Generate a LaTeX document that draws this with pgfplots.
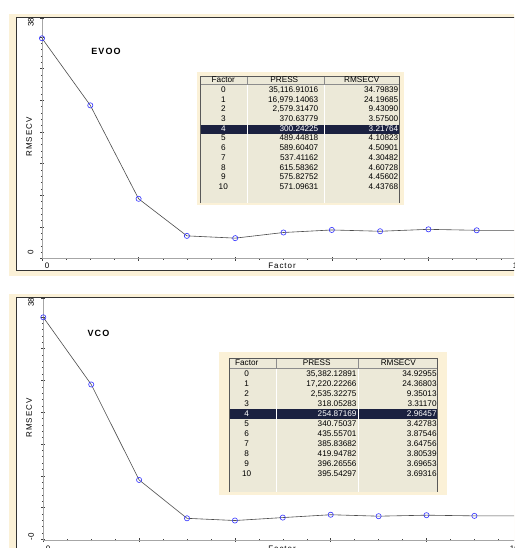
\documentclass[border=0pt]{standalone}
\usepackage{pgfplots}
\pgfplotsset{compat=1.18}
\usepackage{fontspec}
\setmainfont{Liberation Sans}
\newfontfamily\lsf[LetterSpace=12]{Liberation Sans}
\definecolor{framec}{RGB}{251,241,215}
\definecolor{tabbg}{RGB}{236,233,216}
\definecolor{hl}{RGB}{27,33,64}
\definecolor{mk}{RGB}{50,50,255}
\newcommand\tabfont{\fontsize{8.2}{9}\selectfont}
\newcommand\trow[5][black]{%
  \node[text=#1, font=\tabfont, anchor=mid, inner sep=0pt] at (\cA,{\yZ+\dY*#2}) {#3};
  \node[text=#1, font=\tabfont, anchor=mid east, inner sep=0pt] at (\cB,{\yZ+\dY*#2}) {#4};
  \node[text=#1, font=\tabfont, anchor=mid east, inner sep=0pt] at (\cC,{\yZ+\dY*#2}) {#5};}
\pgfplotsset{
  rmsestyle/.style={
    scale only axis, xmin=0, xmax=10,
    axis x line*=bottom, axis y line*=left,
    axis line style={draw=black!35, line width=0.6pt},
    xtick={0,2,...,10}, minor x tick num=3,
    ytick={0,5,...,35}, minor y tick num=4,
    extra y ticks={38}, extra y tick labels={},
    xticklabels={}, yticklabels={},
    tick align=center,
    major tick length=4pt, minor tick length=2pt,
    every tick/.style={black!75, line width=0.5pt},
    clip=false,
  },
  curvestyle/.style={color=black!70, line width=0.6pt, mark=o, mark size=2.6pt,
    mark options={draw=mk, line width=0.6pt}},
}
\begin{document}
\begin{tikzpicture}
\useasboundingbox (0pt,0pt) rectangle (514pt,-548pt);
\clip (0pt,0pt) rectangle (514pt,-548pt);
\fill[white] (0pt,0pt) rectangle (514pt,-548pt);
\begin{scope}[x=1pt,y=-1pt]
  % frames
  \fill[framec] (9,14) rectangle (530,276);
  \filldraw[fill=white, draw=black!80, line width=0.6pt] (16,17) rectangle (530,270.5);
  \fill[framec] (9,294) rectangle (530,570);
  \filldraw[fill=white, draw=black!80, line width=0.6pt] (16,297) rectangle (530,570);
\end{scope}

\begin{axis}[rmsestyle, at={(42pt,-258.5pt)}, anchor=south west,
  width=483pt, height=240.5pt, ymin=0, ymax=38]
\addplot[curvestyle] coordinates {
 (0,34.79839) (1,24.19685) (2,9.43090) (3,3.57500) (4,3.21764) (5,4.10823)
 (6,4.50901) (7,4.30482) (8,4.60728) (9,4.45602) (10,4.43768)};
\end{axis}

\begin{axis}[rmsestyle, at={(43.3pt,-540pt)}, anchor=south west,
  width=479pt, height=242.2pt, ymin=-0.1, ymax=38]
\addplot[curvestyle] coordinates {
 (0,34.92955) (1,24.36803) (2,9.35013) (3,3.31170) (4,2.96457) (5,3.42783)
 (6,3.87546) (7,3.64756) (8,3.80539) (9,3.69653) (10,3.69316)};
\end{axis}

\begin{scope}[x=1pt,y=-1pt]
  % axis texts top
  \node[rotate=90, font=\fontsize{8}{9}\selectfont, inner sep=0pt] at (30.8,22.5) {38};
  \node[rotate=90, font=\fontsize{8}{9}\selectfont, inner sep=0pt] at (30.5,252.5) {0};
  \node[rotate=90, font=\lsf\fontsize{8}{9}\selectfont, inner sep=0pt] at (29,137) {RMSECV};
  \node[font=\fontsize{8}{9}\selectfont, inner sep=0pt] at (47,265.5) {0};
  \node[font=\fontsize{8}{9}\selectfont, inner sep=0pt, anchor=east] at (522,265.5) {10};
  \node[font=\lsf\fontsize{8}{9}\selectfont, inner sep=0pt] at (282,266) {Factor};
  \node[font=\lsf\bfseries\fontsize{9}{10}\selectfont, inner sep=0pt] at (106,51.7) {EVOO};
  % axis texts bottom
  \node[rotate=90, font=\fontsize{8}{9}\selectfont, inner sep=0pt] at (31,302.5) {38};
  \node[rotate=90, font=\fontsize{8}{9}\selectfont, inner sep=0pt] at (31,536.5) {-0};
  \node[rotate=90, font=\lsf\fontsize{8}{9}\selectfont, inner sep=0pt] at (29,418) {RMSECV};
  \node[font=\fontsize{8}{9}\selectfont, inner sep=0pt] at (48,548.5) {0};
  \node[font=\fontsize{8}{9}\selectfont, inner sep=0pt, anchor=east] at (519,548.5) {10};
  \node[font=\lsf\fontsize{8}{9}\selectfont, inner sep=0pt] at (282,548.5) {Factor};
  \node[font=\lsf\bfseries\fontsize{9}{10}\selectfont, inner sep=0pt] at (98.5,333.5) {VCO};

  % ---------- top table ----------
  \fill[framec] (196.5,72) rectangle (403.5,205);
  \fill[tabbg] (200,76) rectangle (399.5,203);
  \fill[hl] (200,124.7) rectangle (399.5,133.7);
  \draw[white, line width=0.8pt] (247,84.5) -- (247,203) (324,84.5) -- (324,203);
  \draw[black!45, line width=0.5pt] (200,84.5) -- (399.5,84.5) (247,76) -- (247,84.5) (324,76) -- (324,84.5);
  \draw[black!65, line width=0.6pt] (200,203) -- (200,76) -- (399.5,76) -- (399.5,203);
  \node[font=\tabfont, inner sep=0pt, anchor=mid] at (223.3,80.3) {Factor};
  \node[font=\tabfont, inner sep=0pt, anchor=mid] at (284.3,80.3) {PRESS};
  \node[font=\tabfont, inner sep=0pt, anchor=mid] at (361.7,80.3) {RMSECV};
  \def\cA{223.3}\def\cB{318.5}\def\cC{398.5}\def\yZ{90}\def\dY{9.67}
  \trow{0}{0}{35,116.91016}{34.79839}
  \trow{1}{1}{16,979.14063}{24.19685}
  \trow{2}{2}{2,579.31470}{9.43090}
  \trow{3}{3}{370.63779}{3.57500}
  \trow[white]{4}{4}{300.24225}{3.21764}
  \trow{5}{5}{489.44818}{4.10823}
  \trow{6}{6}{589.60407}{4.50901}
  \trow{7}{7}{537.41162}{4.30482}
  \trow{8}{8}{615.58362}{4.60728}
  \trow{9}{9}{575.82752}{4.45602}
  \trow{10}{10}{571.09631}{4.43768}

  % ---------- bottom table ----------
  \fill[framec] (219,352.3) rectangle (447,495);
  \fill[tabbg] (229,358.3) rectangle (437.7,492);
  \fill[hl] (229,408.7) rectangle (437.7,418.5);
  \draw[white, line width=0.8pt] (276.7,368.3) -- (276.7,492) (358.3,368.3) -- (358.3,492);
  \draw[black!45, line width=0.5pt] (229,368.3) -- (437.7,368.3) (276.7,358.3) -- (276.7,368.3) (358.3,358.3) -- (358.3,368.3);
  \draw[black!65, line width=0.6pt] (229,492) -- (229,358.3) -- (437.7,358.3) -- (437.7,492);
  \node[font=\tabfont, inner sep=0pt, anchor=mid] at (246.7,363.3) {Factor};
  \node[font=\tabfont, inner sep=0pt, anchor=mid] at (316.7,363.3) {PRESS};
  \node[font=\tabfont, inner sep=0pt, anchor=mid] at (398.3,363.3) {RMSECV};
  \def\cA{246.7}\def\cB{356.7}\def\cC{436.8}\def\yZ{373.6}\def\dY{10.0}
  \trow{0}{0}{35,382.12891}{34.92955}
  \trow{1}{1}{17,220.22266}{24.36803}
  \trow{2}{2}{2,535.32275}{9.35013}
  \trow{3}{3}{318.05283}{3.31170}
  \trow[white]{4}{4}{254.87169}{2.96457}
  \trow{5}{5}{340.75037}{3.42783}
  \trow{6}{6}{435.55701}{3.87546}
  \trow{7}{7}{385.83682}{3.64756}
  \trow{8}{8}{419.94782}{3.80539}
  \trow{9}{9}{396.26556}{3.69653}
  \trow{10}{10}{395.54297}{3.69316}
\end{scope}
\end{tikzpicture}
\end{document}
